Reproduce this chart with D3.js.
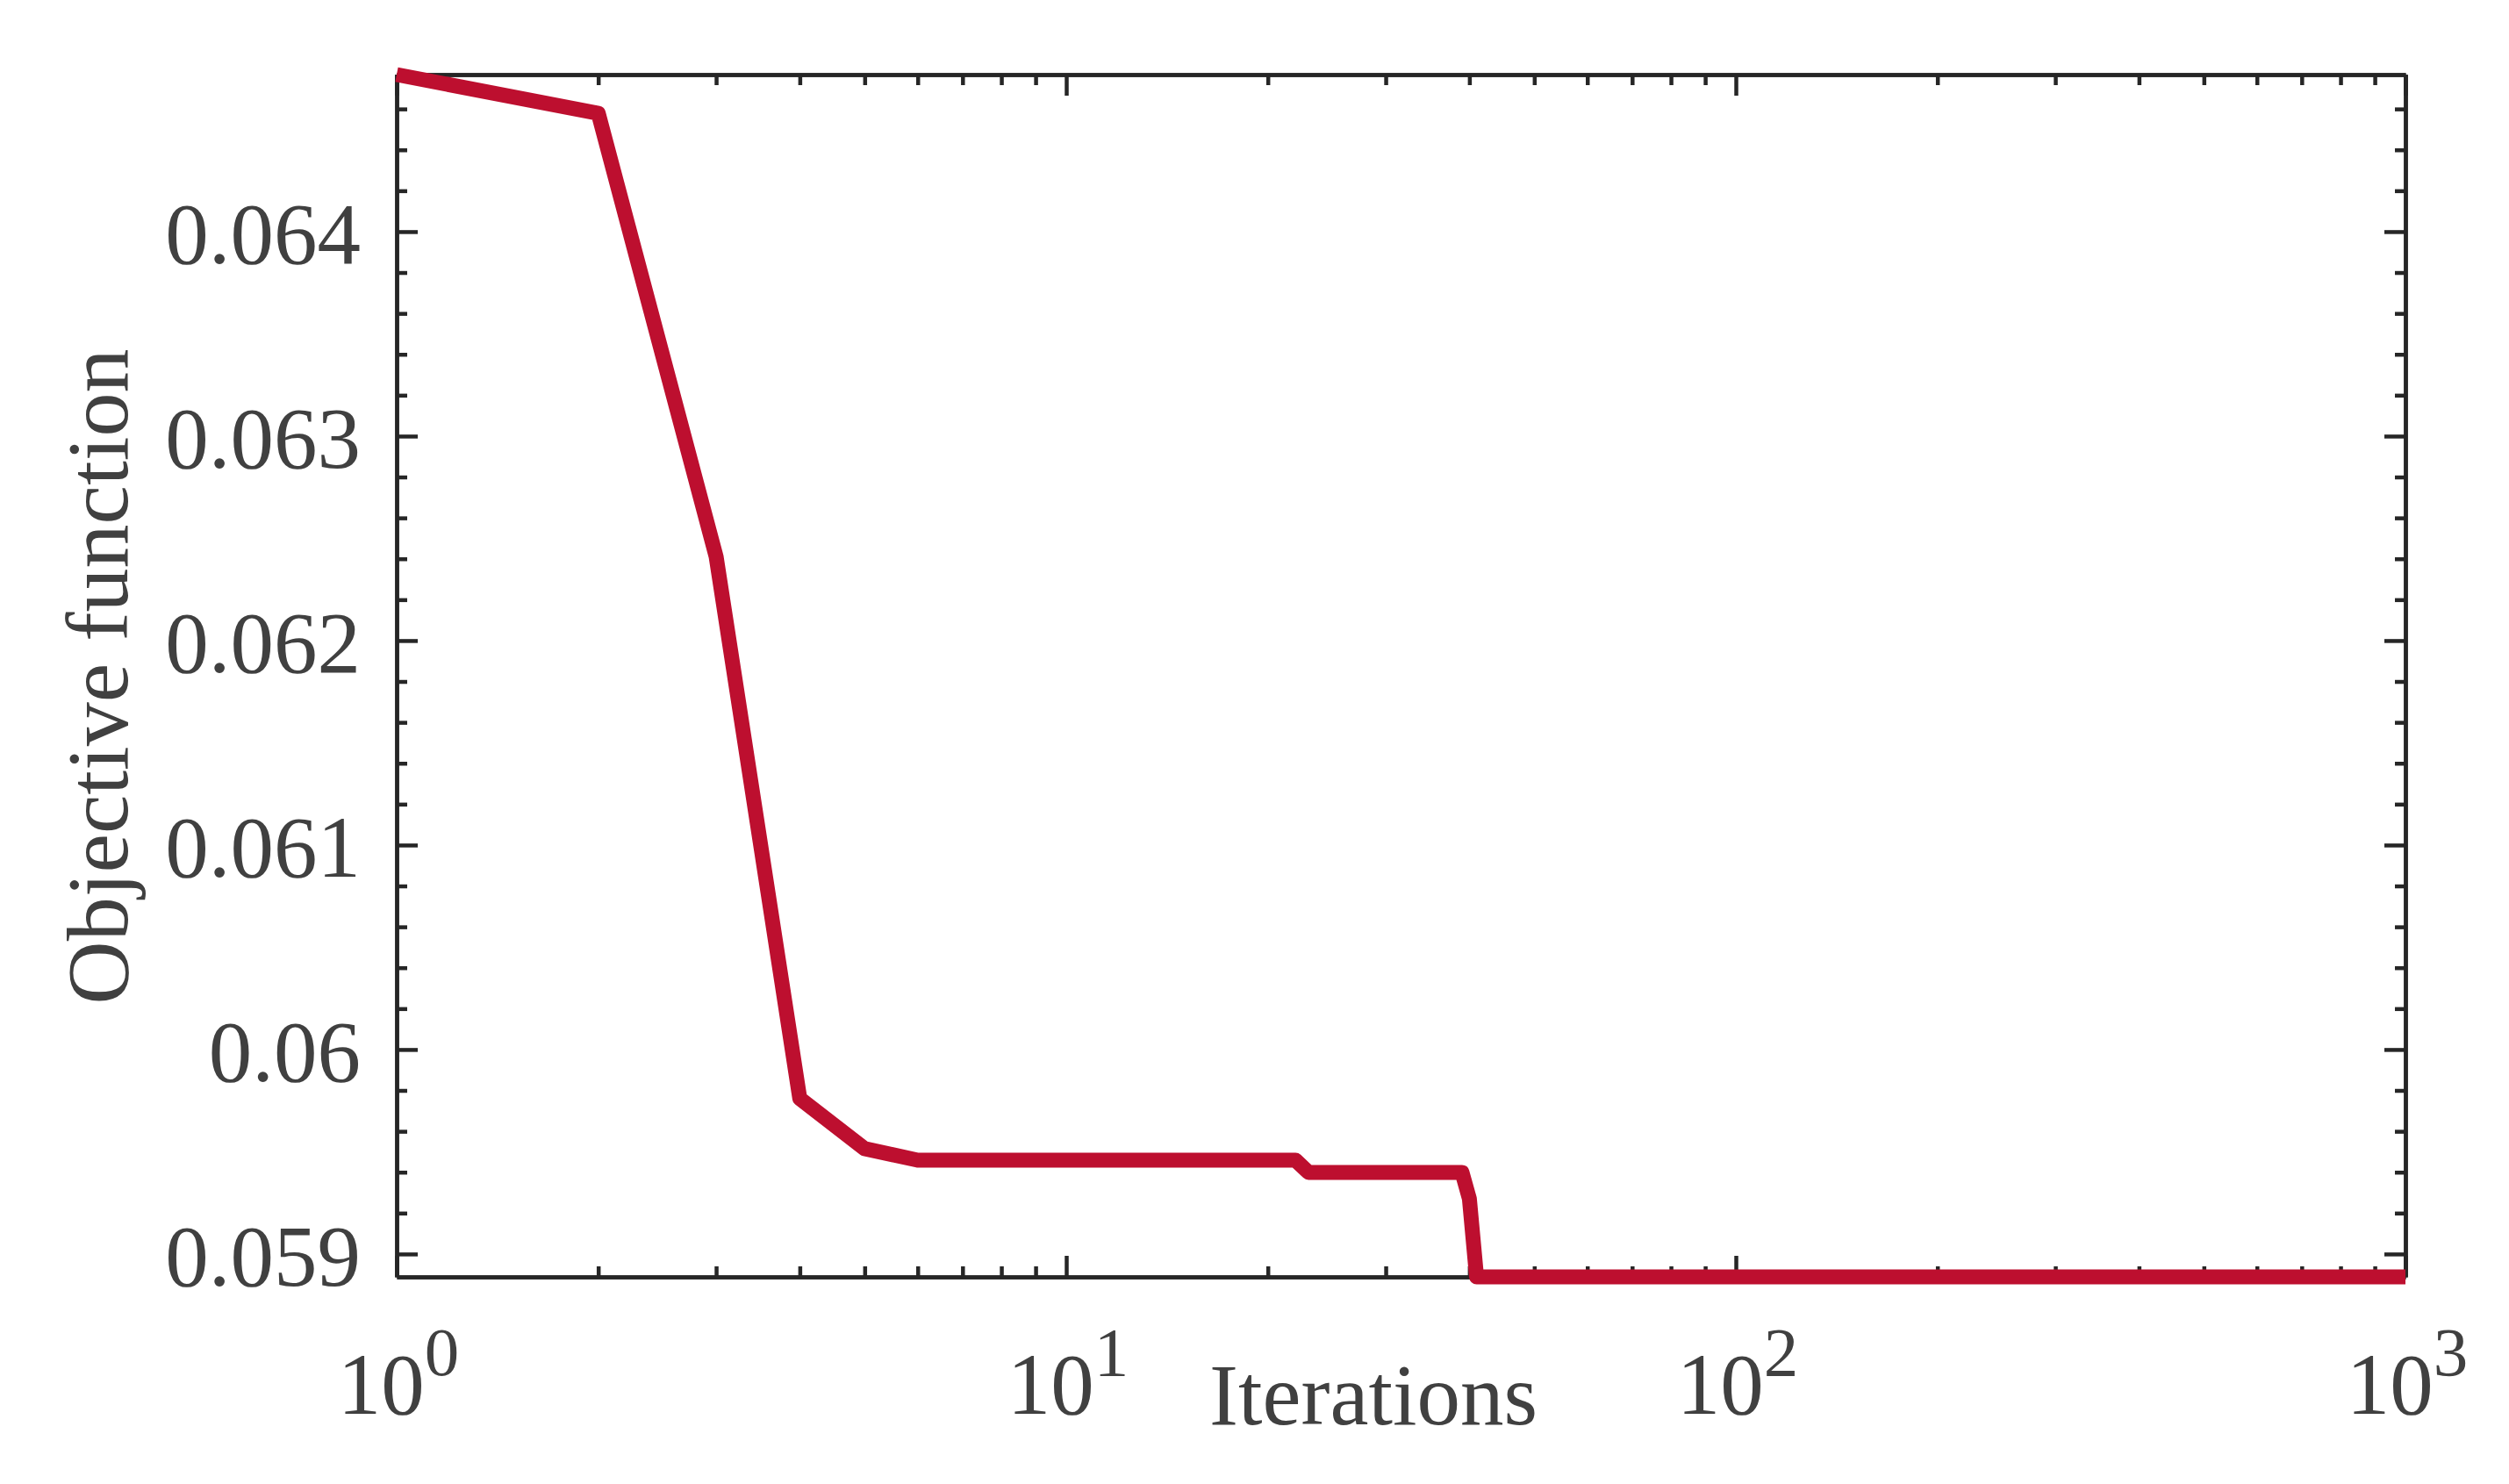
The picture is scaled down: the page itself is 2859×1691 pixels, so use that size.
<!DOCTYPE html>
<html>
<head>
<meta charset="utf-8">
<script src="https://cdn.jsdelivr.net/npm/d3@7"></script>
<style>
  html, body { margin: 0; padding: 0; background: #ffffff; }
  svg { display: block; }
  text { font-family: "Liberation Serif", "Times New Roman", serif; fill: #404040; }
</style>
</head>
<body>
<svg id="chart" width="2859" height="1691"></svg>
<script>
// ---- data ----
const iterations = [1, 2, 3, 4, 5, 6, 22, 23, 39, 40, 41, 1000];
const objective  = [0.064768, 0.064579, 0.06241, 0.05976, 0.059515, 0.059459,
                    0.059459, 0.059399, 0.059399, 0.05927, 0.058888, 0.058888];
const xMajorTicks = [1, 10, 100, 1000];
const xTickExponents = ["0", "1", "2", "3"];
const yMajorTicks = [0.059, 0.060, 0.061, 0.062, 0.063, 0.064];
const yTickLabels = ["0.059", "0.06", "0.061", "0.062", "0.063", "0.064"];
const xLabel = "Iterations";
const yLabel = "Objective function";

// ---- layout ----
const plotLeft = 452, plotRight = 2741, plotTop = 85, plotBottom = 1455;
const axisColor = "#262626";
const lineColor = "#bd0f2f";

const svg = d3.select("#chart");

const x = d3.scaleLog().domain([1, 1000]).range([plotLeft, plotRight]);
const y = d3.scaleLinear().domain([d3.min(objective), d3.max(objective)]).range([plotBottom, plotTop]);

// minor ticks
const xMinor = [];
for (let d = 1; d < 1000; d *= 10) for (let k = 2; k <= 9; k++) xMinor.push(d * k);
const yMinor = [];
for (let i = 588; i <= 648; i += 2) {
  const r = i / 10000;
  if (r >= y.domain()[0] && r <= y.domain()[1] && i % 10 !== 0) yMinor.push(r);
}

const majorLen = 24, minorLen = 12;

function styleAxis(g) {
  g.selectAll("path.domain").attr("stroke", axisColor).attr("stroke-width", 4.5);
  g.selectAll(".tick line").attr("stroke", axisColor).attr("stroke-width", 4.5);
  g.selectAll(".tick text").remove();
}

// bottom / top
[[d3.axisBottom, plotBottom], [d3.axisTop, plotTop]].forEach(([fn, pos]) => {
  svg.append("g").attr("transform", `translate(0,${pos})`)
    .call(fn(x).tickValues(xMajorTicks).tickSize(-majorLen).tickSizeOuter(0).tickFormat(""))
    .call(styleAxis);
  svg.append("g").attr("transform", `translate(0,${pos})`)
    .call(fn(x).tickValues(xMinor).tickSize(-minorLen).tickSizeOuter(0).tickFormat(""))
    .call(styleAxis);
});
// left / right
[[d3.axisLeft, plotLeft], [d3.axisRight, plotRight]].forEach(([fn, pos]) => {
  svg.append("g").attr("transform", `translate(${pos},0)`)
    .call(fn(y).tickValues(yMajorTicks).tickSize(-majorLen).tickSizeOuter(0).tickFormat(""))
    .call(styleAxis);
  svg.append("g").attr("transform", `translate(${pos},0)`)
    .call(fn(y).tickValues(yMinor).tickSize(-minorLen).tickSizeOuter(0).tickFormat(""))
    .call(styleAxis);
});

// y tick labels
svg.append("g").selectAll("text").data(yMajorTicks).join("text")
  .attr("x", plotLeft - 41)
  .attr("y", d => y(d))
  .attr("dy", "0.36em")
  .attr("text-anchor", "end")
  .attr("font-size", 99)
  .text((d, i) => yTickLabels[i]);

// x tick labels (10^n)
const xl = svg.append("g").selectAll("text").data(xMajorTicks).join("text")
  .attr("x", d => x(d) + 2)
  .attr("y", 1611)
  .attr("text-anchor", "middle")
  .attr("font-size", 99);
xl.append("tspan").text("10");
xl.append("tspan").attr("dy", -44).attr("font-size", 79).text((d, i) => xTickExponents[i]);

// axis labels
svg.append("text")
  .attr("x", 1565).attr("y", 1623)
  .attr("text-anchor", "middle")
  .attr("font-size", 99)
  .text(xLabel);
svg.append("text")
  .attr("transform", `translate(145,771) rotate(-90)`)
  .attr("text-anchor", "middle")
  .attr("font-size", 100)
  .text(yLabel);

// data line
const line = d3.line().x(d => x(d[0])).y(d => y(d[1]));
svg.append("path")
  .datum(iterations.map((it, i) => [it, objective[i]]))
  .attr("d", line)
  .attr("fill", "none")
  .attr("stroke", lineColor)
  .attr("stroke-width", 17)
  .attr("stroke-linejoin", "round")
  .attr("stroke-linecap", "butt");
</script>
</body>
</html>
